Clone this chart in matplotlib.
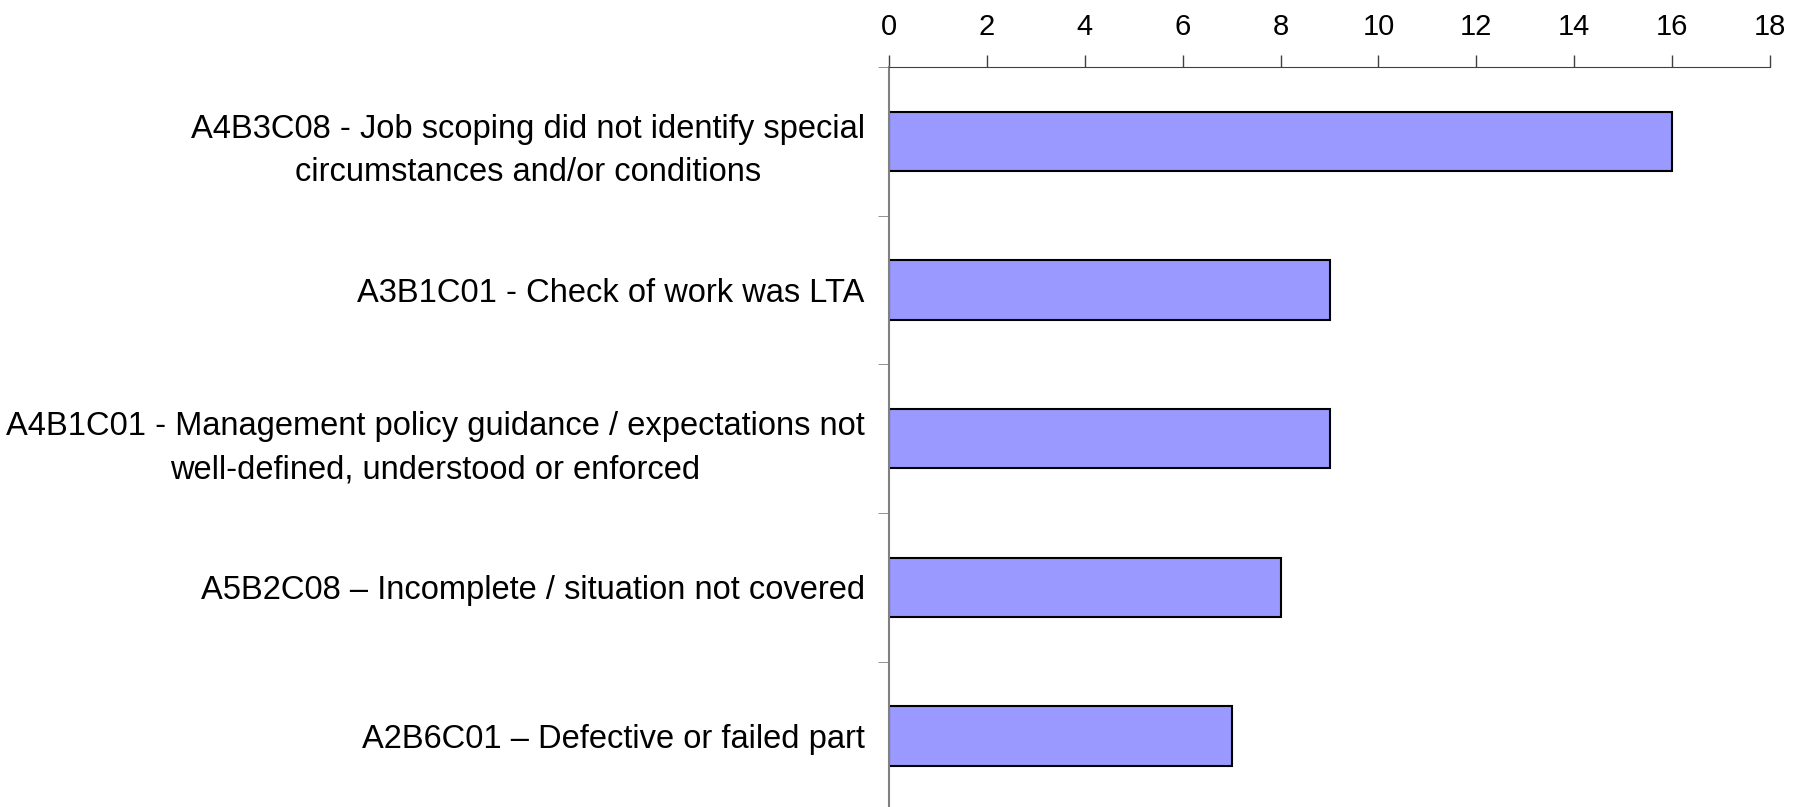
import numpy as np
import matplotlib.pyplot as plt

# categories listed top to bottom
categories = [
    'A4B3C08 - Job scoping did not identify special\ncircumstances and/or conditions',
    'A3B1C01 - Check of work was LTA',
    'A4B1C01 - Management policy guidance / expectations not\nwell-defined, understood or enforced',
    'A5B2C08 \u2013 Incomplete / situation not covered',
    'A2B6C01 \u2013 Defective or failed part',
]
counts = [16, 9, 9, 8, 7]
xticks = list(range(0, 20, 2))

plt.rcParams['font.family'] = ['Liberation Sans', 'DejaVu Sans']

fig = plt.figure(figsize=(18.08, 8.07), dpi=100)
ax = fig.add_axes([0.4917, -0.004, 0.4873, 0.921])

y = np.arange(len(categories))
ax.barh(y, counts, height=0.4, color='#9999FF', edgecolor='black', linewidth=1.5)

ax.set_xlim(0, 18)
ax.set_ylim(len(categories) - 0.5, -0.5)
ax.xaxis.tick_top()
ax.set_xticks(xticks)
ax.tick_params(axis='x', direction='out', length=9, width=1, color='#404040',
               labelsize=21, pad=10)

# category labels: right-aligned block, centred lines
ax.set_yticks(y)
ax.set_yticklabels(categories, fontsize=23.5, ha='right', multialignment='center',
                   linespacing=1.5)
ax.tick_params(axis='y', which='major', length=0, pad=17.5)

# boundary ticks between categories
ax.set_yticks(np.arange(-0.5, len(categories) + 0.5, 1), minor=True)
ax.tick_params(axis='y', which='minor', direction='out', length=8, color='#808080')

for s in ['right', 'bottom']:
    ax.spines[s].set_visible(False)
ax.spines['top'].set_color('#404040')
ax.spines['left'].set_color('#808080')
ax.spines['left'].set_linewidth(1.5)

fig.savefig('out.png', dpi=100)
